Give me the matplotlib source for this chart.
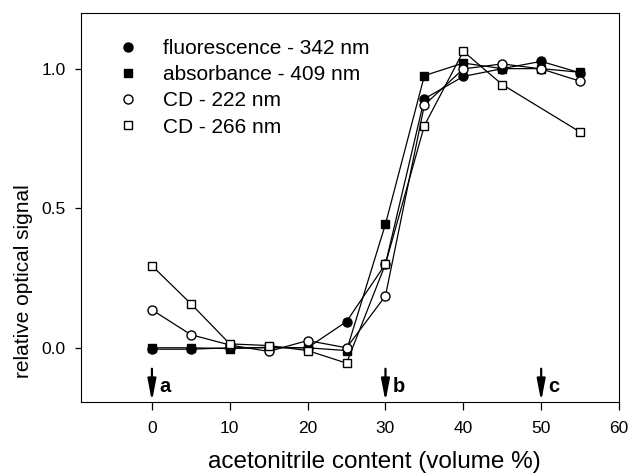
import numpy as np
import matplotlib
matplotlib.use('Agg')
from matplotlib import pyplot as plt

plt.rcParams['font.family'] = ['Liberation Sans', 'DejaVu Sans']

# acetonitrile content (volume %)
acn = [0, 5, 10, 15, 20, 25, 30, 35, 40, 45, 50, 55]
acn_cd266 = [0, 5, 10, 15, 20, 25, 30, 35, 40, 45, 55]

fluorescence_342 = [-0.005, -0.005, 0.0, 0.0, 0.0, 0.094, 0.30, 0.892, 0.972, 1.0, 1.026, 0.985]
absorbance_409 = [0.0, 0.0, -0.003, 0.002, 0.0, -0.01, 0.443, 0.975, 1.02, 1.0, 1.0, 0.987]
cd_222 = [0.136, 0.047, 0.01, -0.013, 0.026, 0.0, 0.186, 0.87, 0.999, 1.017, 0.999, 0.955]
cd_266 = [0.294, 0.158, 0.014, 0.008, -0.01, -0.055, 0.30, 0.796, 1.062, 0.943, 0.773]

# transition points marked with arrows
arrow_x = [0, 30, 50]
arrow_labels = ['a', 'b', 'c']

fig = plt.figure(figsize=(6.31, 4.74), dpi=100)
ax = fig.add_axes([0.129, 0.152, 0.852, 0.821])

ms = 6.5
ax.plot(acn, fluorescence_342, '-o', color='k', mfc='k', mec='k', lw=0.9, ms=ms,
        label='fluorescence - 342 nm')
ax.plot(acn, absorbance_409, '-s', color='k', mfc='k', mec='k', lw=0.9, ms=ms - 0.5,
        label='absorbance - 409 nm')
ax.plot(acn, cd_222, '-o', color='k', mfc='white', mec='k', lw=0.9, ms=ms,
        label='CD - 222 nm')
ax.plot(acn_cd266, cd_266, '-s', color='k', mfc='white', mec='k', lw=0.9, ms=ms - 0.5,
        label='CD - 266 nm')

for x, lab in zip(arrow_x, arrow_labels):
    ax.annotate('', xy=(x, -0.192), xytext=(x, -0.075),
                arrowprops=dict(arrowstyle='-|>,head_length=1.3,head_width=0.25',
                                color='k', lw=1.6, mutation_scale=10,
                                shrinkA=0, shrinkB=0))
    ax.text(x + 0.9, -0.14, lab, fontsize=14.5, fontweight='bold', va='center', ha='left')

ax.set_xlim(-9.06, 60)
ax.set_ylim(-0.194, 1.2)
ax.set_xticks([0, 10, 20, 30, 40, 50, 60])
ax.set_yticks([0.0, 0.5, 1.0])
ax.set_yticklabels(['0.0', '0.5', '1.0'])
ax.tick_params(direction='out', width=0.9, labelsize=12.5, top=False, right=False)
ax.tick_params(axis='x', length=6, pad=8)
ax.tick_params(axis='y', length=4.5, pad=7)
ax.set_xlabel('acetonitrile content (volume %)', fontsize=17.5)
ax.xaxis.set_label_coords(0.545, -0.125)
ax.set_ylabel('relative optical signal', fontsize=15)
ax.yaxis.set_label_coords(-0.09, 0.311)

leg = ax.legend(loc='upper left', frameon=False, fontsize=15, handlelength=1.0,
                handletextpad=1.18, labelspacing=0.35, borderpad=0,
                borderaxespad=0, bbox_to_anchor=(0.067, 0.933))
for line in leg.get_lines():
    line.set_linestyle('none')

fig.savefig('out.png', dpi=100)
